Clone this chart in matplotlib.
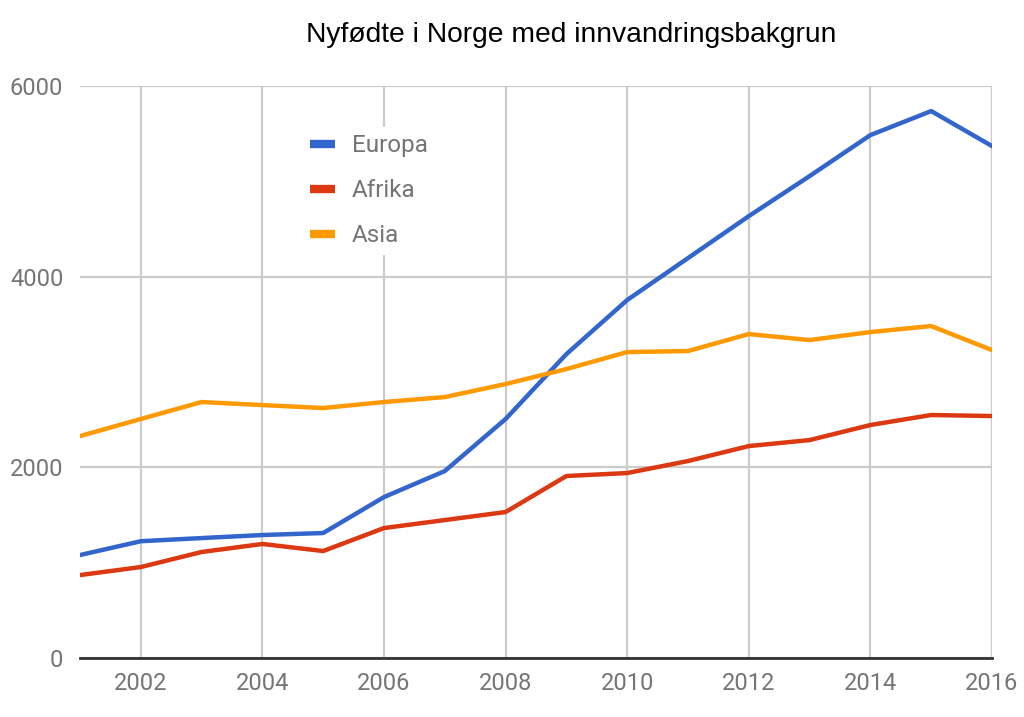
import matplotlib
matplotlib.use("Agg")
import matplotlib.pyplot as plt

years = list(range(2001, 2017))
europa = [1080, 1225, 1258, 1290, 1311, 1688, 1961, 2507, 3188, 3755,
          4195, 4635, 5055, 5485, 5737, 5370]
afrika = [870, 954, 1112, 1196, 1122, 1363, 1447, 1531, 1909, 1940,
          2066, 2223, 2286, 2444, 2549, 2538]
asia = [2328, 2507, 2685, 2653, 2622, 2685, 2737, 2874, 3031, 3209,
        3220, 3398, 3335, 3419, 3482, 3230]

plt.rcParams["font.family"] = ["Roboto", "DejaVu Sans"]

fig = plt.figure(figsize=(10.24, 7.17), dpi=100)
ax = fig.add_axes([80 / 1024, 1 - 658 / 717, 912 / 1024, 572 / 717])

ax.plot(years, europa, color="#3366CC", lw=3.2, label="Europa", zorder=3)
ax.plot(years, afrika, color="#DC3912", lw=3.2, label="Afrika", zorder=3)
ax.plot(years, asia, color="#FF9900", lw=3.2, label="Asia", zorder=3)

ax.set_xlim(2001, 2016)
ax.set_ylim(0, 6000)
ax.set_xticks(range(2002, 2017, 2))
ax.set_yticks([0, 2000, 4000, 6000])
ax.grid(True, color="#cccccc", lw=1.6, zorder=0)
ax.axvline(2016, color="#cccccc", lw=1.6, zorder=0)
ax.axhline(0, color="#333333", lw=2, zorder=4, clip_on=False)
for s in ax.spines.values():
    s.set_visible(False)
ax.tick_params(length=0, labelsize=17, colors="#757575", pad=10)
ax.tick_params(axis="y", pad=12)

leg = ax.legend(loc="upper left", bbox_to_anchor=(291 / 1024, 1 - 115 / 717),
                bbox_transform=fig.transFigure, frameon=True, fancybox=False,
                edgecolor="white", framealpha=1, fontsize=17.5,
                handlelength=1.0, handletextpad=0.7, labelspacing=0.9,
                borderpad=0.3)
for t in leg.get_texts():
    t.set_color("#757575")
for h in leg.get_lines():
    h.set_linewidth(6)
    h.set_solid_capstyle("butt")
leg.set_zorder(5)

fig.text(571 / 1024, 1 - 35 / 717, "Nyfødte i Norge med innvandringsbakgrun",
         ha="center", va="center", fontsize=20.3, color="black",
         family=["Liberation Sans", "DejaVu Sans"])

fig.savefig("out.png", dpi=100)
